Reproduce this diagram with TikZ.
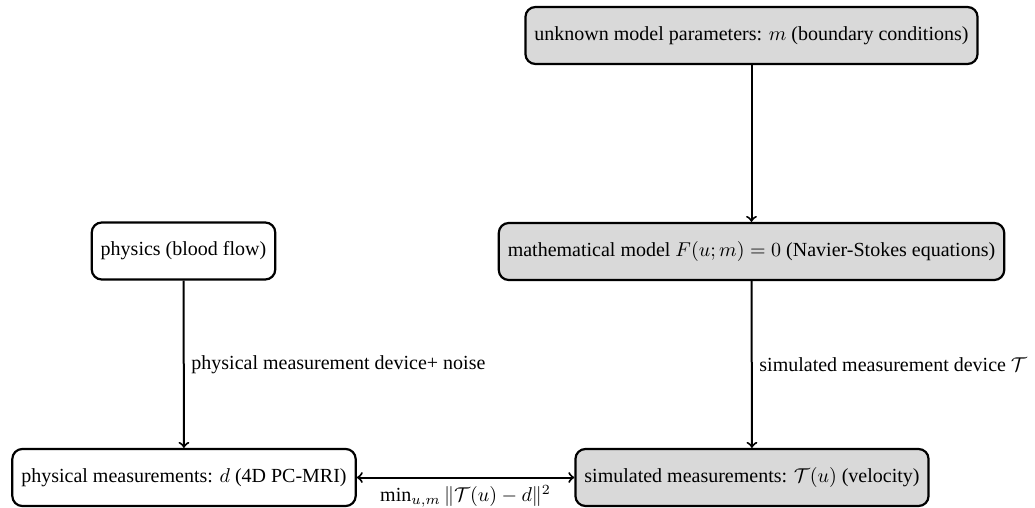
\documentclass[tikz,border=0pt]{standalone}
\usepackage{fontspec}
\setmainfont{Liberation Serif}
\begin{document}
\begin{tikzpicture}[x=1pt,y=1pt,
  box/.style={draw, line width=1.1pt, rounded corners=5pt, minimum height=28.5pt, inner xsep=4.5pt, font=\fontsize{10}{12}\selectfont},
  sim/.style={box, fill=gray!30},
  conn/.style={line width=1pt, ->},
  lbl/.style={font=\fontsize{10}{12}\selectfont}]
\useasboundingbox (0,0) rectangle (517.5,-254);
\node[sim] (par) at (375.75,-17.75) {unknown model parameters: $m$ (boundary conditions)};
\node[sim] (mod) at (375.75,-125.75) {mathematical model $F(u;m)=0$ (Navier-Stokes equations)};
\node[box] (phy) at (91.75,-125.5) {physics (blood flow)};
\node[box] (pm) at (92,-238.75) {physical measurements: $d$ (4D PC-MRI)};
\node[sim] (sm) at (376,-238.75) {simulated measurements: $\mathcal{T}(u)$ (velocity)};
\draw[conn] (par) -- (mod);
\draw[conn] (phy) -- node[lbl, right] {physical measurement device+ noise} (pm);
\draw[conn] (mod) -- node[lbl, right] {simulated measurement device $\mathcal{T}$} (sm);
\draw[conn, <->] (pm) -- node[lbl, below] {$\min_{u,m}\|\mathcal{T}(u)-d\|^2$} (sm);
\end{tikzpicture}
\end{document}
